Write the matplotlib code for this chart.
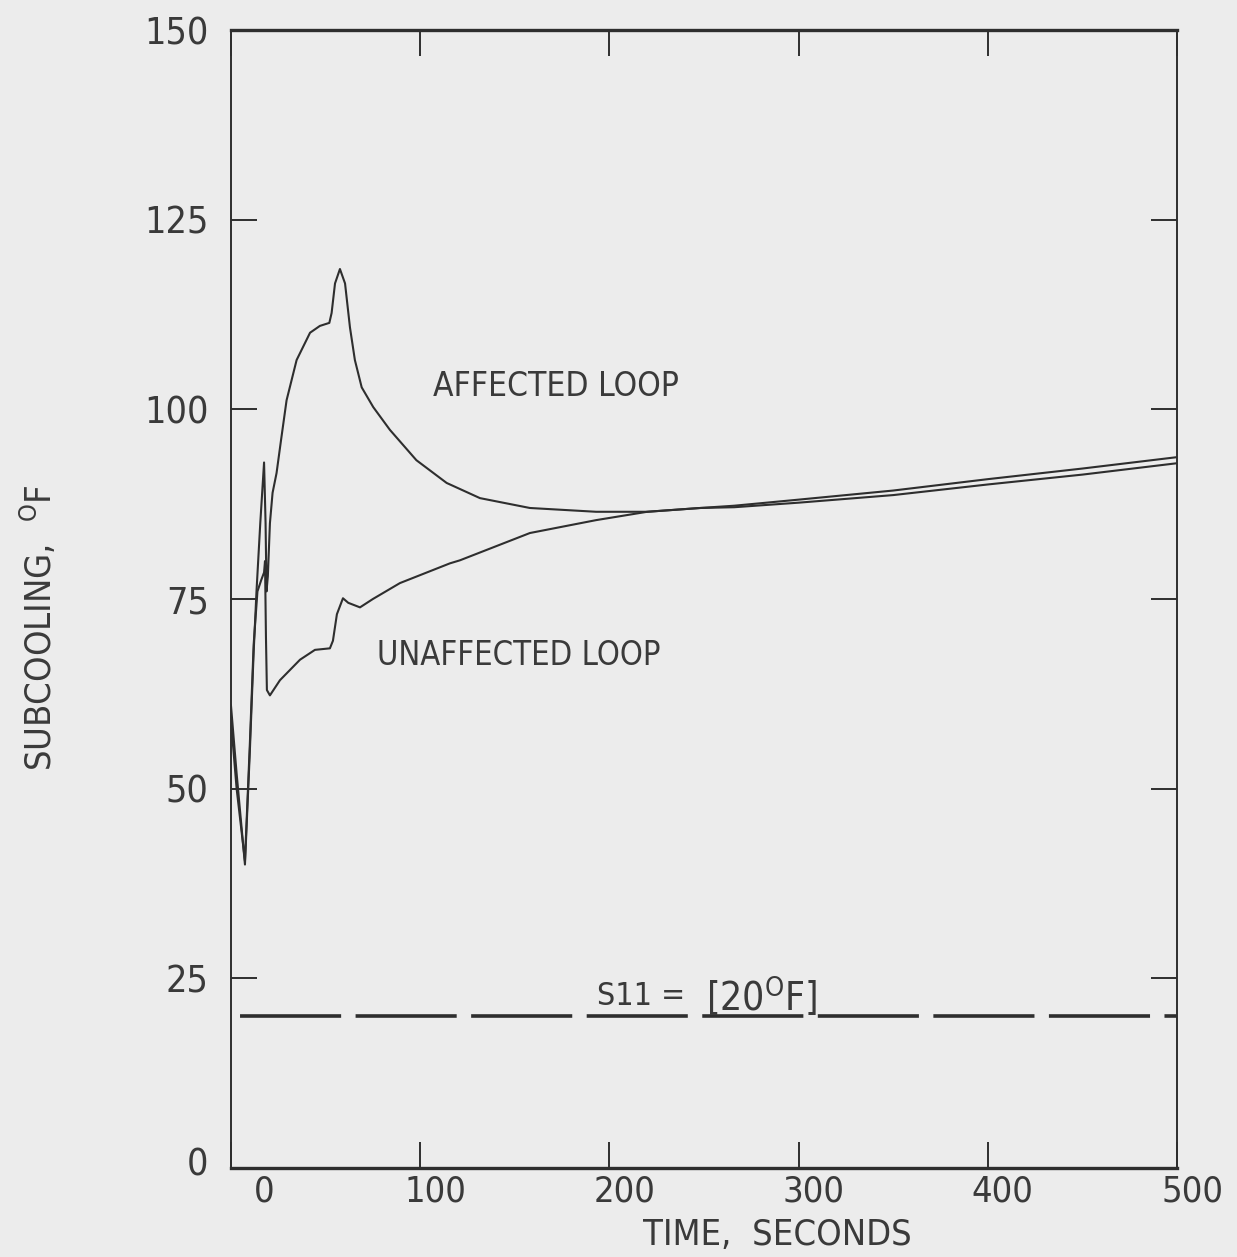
import numpy as np
import matplotlib
matplotlib.use("Agg")
import matplotlib.pyplot as plt
import matplotlib.transforms as mtransforms

plt.rcParams['font.family'] = ['DejaVu Sans']
plt.rcParams['font.stretch'] = 'condensed'
plt.rcParams['mathtext.fontset'] = 'custom'
plt.rcParams['mathtext.rm'] = 'DejaVu Sans:stretch=condensed'

# data (time in s, subcooling in deg F)
t_aff = [0, 3, 7.4, 10, 12, 13.5, 15.5, 17.5, 18.3, 18.8, 19.5, 20.6, 22, 24.1,
         26.5, 29.4, 34.7, 41.8, 47, 52, 53.2, 55, 57.6, 60.3, 62.9, 65.5,
         69.1, 75.2, 84, 98, 114, 131.6, 158, 193, 220, 248, 266, 300, 350,
         400, 450, 500]
sc_aff = [61, 52, 40, 55, 68, 76, 85, 93, 85, 76, 78, 85, 89, 91.6,
          96, 101.2, 106.5, 110.1, 111, 111.4, 112.7, 116.6, 118.5, 116.6, 110.8, 106.5,
          102.9, 100.3, 97.3, 93.3, 90.3, 88.3, 87.0, 86.5, 86.5, 87.0, 87.3, 88.1, 89.3,
          90.8, 92.2, 93.7]

t_unaff = [0, 3, 7.4, 10, 12, 14, 16, 17.5, 18, 18.5, 19, 20.6, 25.9, 36.5,
           44.4, 52.3, 53.9, 56, 59.2, 62, 68.2, 75, 89.3, 115.7, 121, 158, 193,
           220, 248, 266, 300, 350, 400, 450, 500]
sc_unaff = [59, 50, 40.5, 56, 69, 76, 77.5, 78.5, 80, 70, 63, 62.3, 64.3, 67,
            68.3, 68.5, 69.5, 73, 75.1, 74.5, 73.9, 75, 77.1, 79.7, 80.1, 83.7, 85.4,
            86.5, 87.0, 87.1, 87.7, 88.7, 90.1, 91.4, 92.9]

setpoint = 20
x_ticks = [0, 100, 200, 300, 400, 500]
y_ticks = [0, 25, 50, 75, 100, 125, 150]

bg = '#ececec'
ink = '#2e2e2e'
txt = '#3a3a3a'

fig = plt.figure(figsize=(12.37, 12.57), dpi=100, facecolor=bg)
ax = fig.add_axes([0.1867, 0.0708, 0.7648, 0.9053], facecolor=bg)

ax.plot(t_aff, sc_aff, color=ink, lw=1.5)
ax.plot(t_unaff, sc_unaff, color=ink, lw=1.5)
ax.plot([0, 500], [setpoint, setpoint], color=ink, lw=2.6,
        linestyle=(29.5, (28, 4)))

ax.set_xlim(0, 500)
ax.set_ylim(0, 150)
ax.set_xticks(x_ticks)
ax.set_yticks(y_ticks)
ax.set_xticklabels([str(v) for v in x_ticks])
ax.set_yticklabels([str(v) for v in y_ticks])
ax.tick_params(direction='in', length=19, width=1.4, color=ink,
               top=True, right=True, labelsize=27, labelcolor=txt)
ax.tick_params(axis='x', pad=5, labelsize=26)
ax.tick_params(axis='y', pad=16)
for s in ax.spines.values():
    s.set_color(ink)
    s.set_linewidth(1.4)
ax.spines['top'].set_linewidth(2.4)
ax.spines['bottom'].set_linewidth(2.4)

# tick labels on the original sit a little right of their ticks
for i, lab in enumerate(ax.get_xticklabels()):
    dx = 0.33 if i == 0 else 0.15
    lab.set_transform(lab.get_transform() +
                      mtransforms.ScaledTranslation(dx, 0, fig.dpi_scale_trans))
ax.get_yticklabels()[0].set_transform(
    ax.get_yticklabels()[0].get_transform() +
    mtransforms.ScaledTranslation(0, 0.07, fig.dpi_scale_trans))

ax.set_xlabel('TIME,  SECONDS', fontsize=26, color=txt)
ax.xaxis.set_label_coords(0.578, -0.0435)
ax.set_ylabel('SUBCOOLING,  $^{\\rm O}$F', fontsize=26, color=txt)
ax.yaxis.set_label_coords(-0.182, 0.4745)

ax.text(171.5, 103, 'AFFECTED LOOP', fontsize=24, color=txt,
        ha='center', va='center')
ax.text(152, 67.5, 'UNAFFECTED LOOP', fontsize=23.5, color=txt,
        ha='center', va='center')
ax.text(193.5, 20.6, 'S11 =', fontsize=23, color=txt,
        ha='left', va='bottom')
ax.text(251, 19.6, '[20$^{\\rm O}$F]', fontsize=28, color=txt,
        ha='left', va='bottom')

fig.savefig('out.png', dpi=100, facecolor=bg)
